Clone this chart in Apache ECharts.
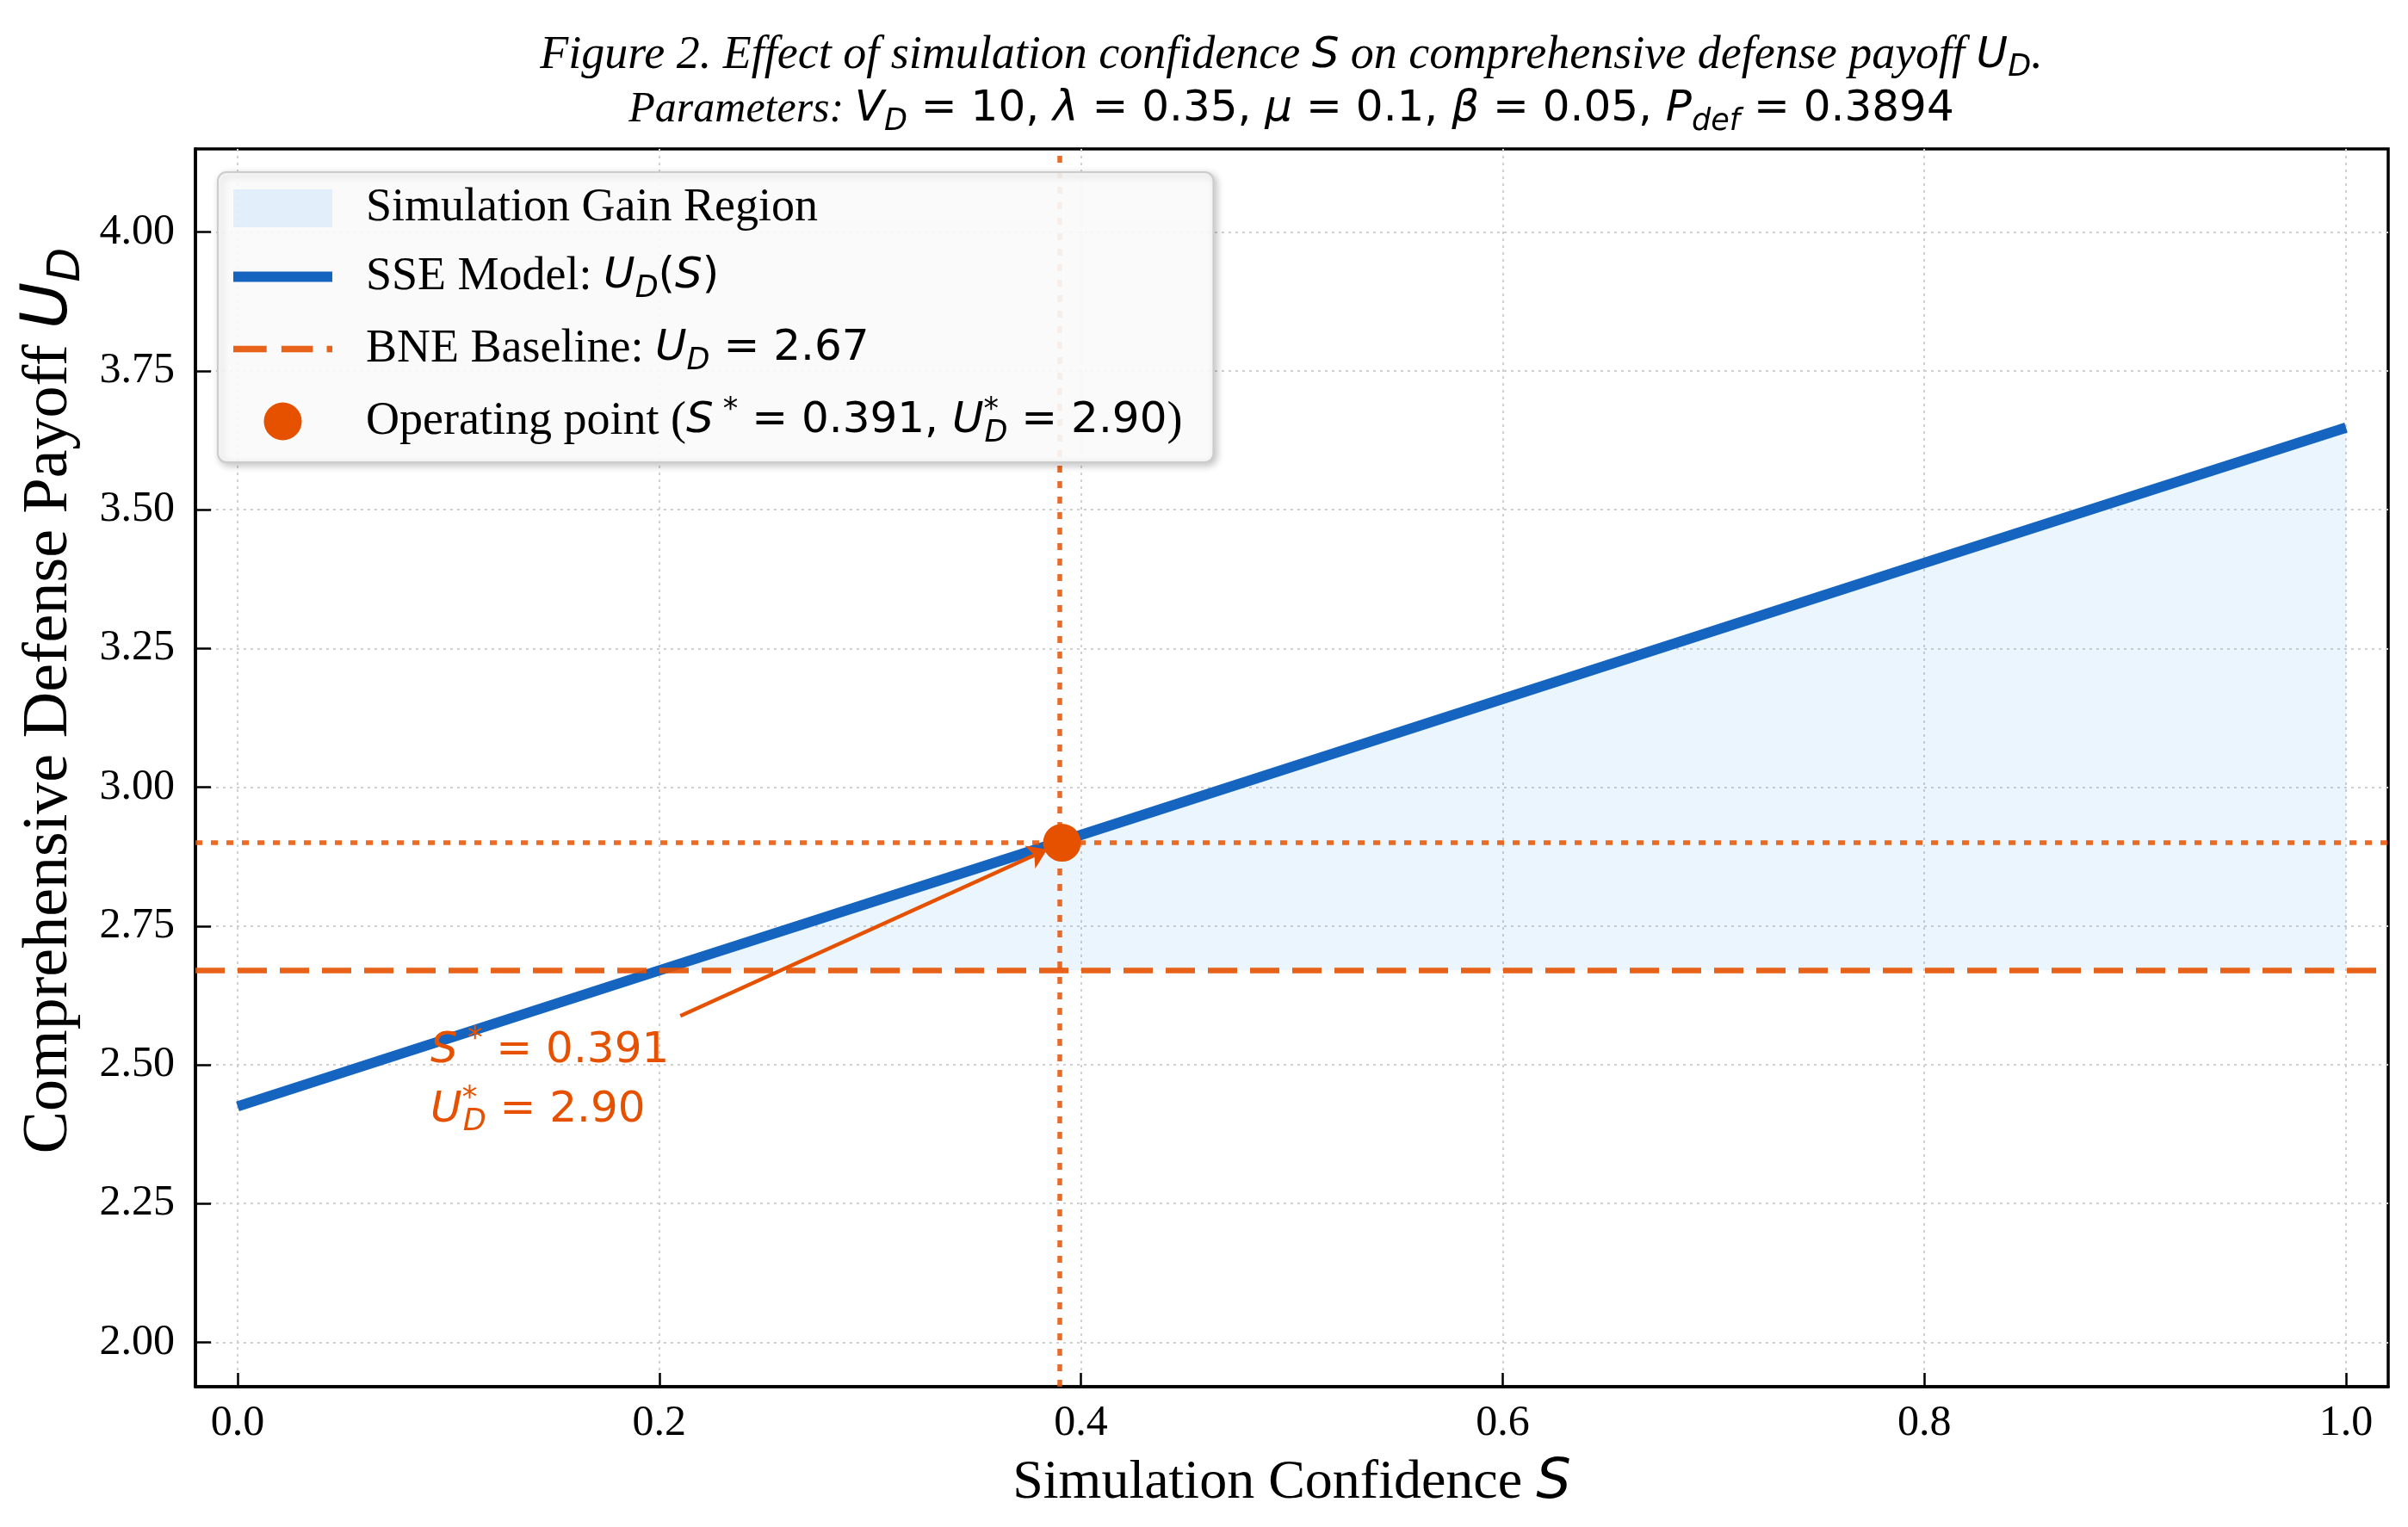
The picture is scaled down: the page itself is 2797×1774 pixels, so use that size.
<!DOCTYPE html>
<html>
<head>
<meta charset="utf-8">
<title>Figure 2</title>
<script src="https://cdn.jsdelivr.net/npm/echarts@6/dist/echarts.min.js"></script>
<style>
  html, body { margin: 0; padding: 0; background: #fff; }
  #main { width: 2797px; height: 1774px; }
</style>
</head>
<body>
<div id="main"></div>
<script>
// values
var sValues = [0, 0.2, 0.4, 0.6, 0.8, 1.0];
var uValues = [2.425, 2.670, 2.914, 3.159, 3.404, 3.648];
var bneBaseline = 2.67;
var opS = 0.391;
var opU = 2.90;
var xTicks = [0, 0.2, 0.4, 0.6, 0.8, 1.0];
var yTicks = [2.00, 2.25, 2.50, 2.75, 3.00, 3.25, 3.50, 3.75, 4.00];
// annotation anchors in data coords
var notePos = [0.0915, 2.472];
var arrowFrom = [0.21, 2.588];
var arrowTo = [0.384, 2.888];

var serif = 'Liberation Serif';
var math = 'DejaVu Sans';
var orange = '#E65100';
var blue = '#1565C0';
var fillColor = 'rgba(66,165,245,0.11)';

// rich styles: t = serif words, m = math italic, n = math upright, d = subscript, u = superscript
function richSet(size, mathSize, color, serifItalic, lhRatio) {
  var small = Math.round(mathSize * 0.7);
  var lh = Math.round(Math.max(size, mathSize) * (lhRatio || 1.25));
  return {
    t: { fontFamily: serif, fontStyle: serifItalic ? 'italic' : 'normal', fontWeight: 'normal', fontSize: size, color: color, lineHeight: lh },
    m: { fontFamily: math, fontStyle: 'italic', fontWeight: 'normal', fontSize: mathSize, color: color, lineHeight: lh },
    n: { fontFamily: math, fontWeight: 'normal', fontSize: mathSize, color: color, lineHeight: lh },
    d: { fontFamily: math, fontStyle: 'italic', fontWeight: 'normal', fontSize: small, color: color, lineHeight: small, padding: [Math.round(mathSize * 0.55), 0, 0, 0] },
    u: { fontFamily: math, fontWeight: 'normal', fontSize: small, color: color, lineHeight: small, padding: [0, 0, Math.round(mathSize * 0.5), 0] },
    uz: { fontFamily: math, fontWeight: 'normal', fontSize: small, color: color, lineHeight: small, width: 1, padding: [0, 0, Math.round(mathSize * 0.5), 0] }
  };
}

var legendNames = {
  gain: '{t|Simulation Gain Region}',
  sse: '{t|SSE Model: }{m|U}{d|D}{n|(}{m|S}{n|)}',
  bne: '{t|BNE Baseline: }{m|U}{d|D}{n| = ' + bneBaseline.toFixed(2) + '}',
  op: '{t|Operating point (}{m|S}{u| *}{n| = ' + opS.toFixed(3) + ', }{m|U}{uz|*}{d|D}{n| = ' + opU.toFixed(2) + '}{t|)}'
};

function renderGain(params, api) {
  var pts = [];
  var first = null, last = null;
  for (var i = 0; i < sValues.length; i++) {
    if (uValues[i] >= bneBaseline - 1e-9) {
      pts.push(api.coord([sValues[i], uValues[i]]));
      if (first === null) first = sValues[i];
      last = sValues[i];
    }
  }
  pts.push(api.coord([last, bneBaseline]));
  pts.push(api.coord([first, bneBaseline]));
  return {
    type: 'polygon',
    shape: { points: pts },
    style: { fill: fillColor }
  };
}

var chart = echarts.init(document.getElementById('main'));

var option = {
  backgroundColor: '#fff',
  animation: false,
  title: {
    left: 1500,
    top: 31,
    textAlign: 'center',
    itemGap: 2,
    padding: 0,
    text: '{t|Figure 2. Effect of simulation confidence }{m|S}{t| on comprehensive defense payoff }{m|U}{d|D}{t|.}',
    subtext: '{t|Parameters: }{m|V}{d|D}{n| = 10, }{m|λ}{n| = 0.35, }{m|μ}{n| = 0.1, }{m|β}{n| = 0.05, }{m|P}{d|def}{n| = 0.3894}',
    textStyle: { fontWeight: 'normal', rich: richSet(54, 50, '#000', true) },
    subtextStyle: { fontWeight: 'normal', rich: richSet(50, 50, '#000', true) }
  },
  legend: {
    orient: 'vertical',
    left: 253,
    top: 200,
    z: 10,
    padding: [15, 36, 16, 18],
    itemWidth: 115,
    itemHeight: 44,
    itemGap: 21,
    backgroundColor: 'rgba(255,255,255,0.9)',
    borderColor: '#cccccc',
    borderWidth: 2,
    borderRadius: 10,
    shadowBlur: 8,
    shadowColor: 'rgba(0,0,0,0.25)',
    shadowOffsetX: 3,
    shadowOffsetY: 3,
    selectedMode: false,
    data: [
      { name: 'gain', icon: 'rect', itemStyle: { color: 'rgba(66,165,245,0.13)' } },
      { name: 'sse', icon: 'path://M0,0H115V12H0Z', symbolKeepAspect: true },
      { name: 'bne', icon: 'path://M0,0H36V7H0Z M52,0H86V7H52Z M101,0H107V7H101Z', symbolKeepAspect: true },
      { name: 'op', icon: 'circle' }
    ],
    formatter: function (name) { return legendNames[name]; },
    textStyle: { padding: [0, 0, 0, 34], rich: richSet(54, 50, '#000', false, 1.2) }
  },
  grid: {
    left: 227,
    right: 23,
    top: 173,
    bottom: 163,
    outerBoundsMode: 'none',
    containLabel: false,
    show: true,
    borderColor: '#000',
    borderWidth: 3.5,
    backgroundColor: 'transparent'
  },
  xAxis: {
    type: 'value',
    min: -0.02,
    max: 1.02,
    name: '{t|Simulation Confidence }{m|S}',
    nameLocation: 'middle',
    nameGap: 72,
    nameTextStyle: { rich: richSet(64, 64, '#000', false) },
    axisLine: { show: true, onZero: false, lineStyle: { color: '#000', width: 3.5 } },
    axisTick: { show: true, inside: true, length: 16, customValues: xTicks, lineStyle: { color: '#000', width: 2.5 } },
    axisLabel: {
      customValues: xTicks,
      margin: 18,
      fontFamily: serif,
      fontSize: 50,
      color: '#000',
      formatter: function (v) { return v.toFixed(1); }
    },
    splitLine: { show: true, lineStyle: { color: '#d0d0d0', width: 2, type: [3, 5] } }
  },
  yAxis: {
    type: 'value',
    min: 1.92,
    max: 4.15,
    name: '{t|Comprehensive Defense Payoff }{m|U}{d|D}',
    nameLocation: 'middle',
    nameRotate: 90,
    nameGap: 123,
    nameTextStyle: { padding: [0, 0, 0, 156], rich: richSet(74, 74, '#000', false) },
    axisLine: { show: true, onZero: false, lineStyle: { color: '#000', width: 3.5 } },
    axisTick: { show: true, inside: true, length: 18, customValues: yTicks, lineStyle: { color: '#000', width: 2.5 } },
    axisLabel: {
      customValues: yTicks,
      margin: 24,
      fontFamily: serif,
      fontSize: 50,
      color: '#000',
      formatter: function (v) { return v.toFixed(2); }
    },
    splitLine: { show: true, lineStyle: { color: '#d0d0d0', width: 2, type: [3, 5] } }
  },
  series: [
    {
      name: 'gain',
      type: 'custom',
      z: 1,
      silent: true,
      itemStyle: { color: fillColor },
      data: [[opS, bneBaseline]],
      encode: { x: 0, y: 1 },
      renderItem: renderGain
    },
    {
      name: 'sse',
      type: 'line',
      z: 2,
      symbol: 'none',
      silent: true,
      lineStyle: { color: blue, width: 12 },
      itemStyle: { color: blue },
      data: sValues.map(function (s, i) { return [s, uValues[i]]; })
    },
    {
      name: 'bne',
      type: 'line',
      z: 3,
      symbol: 'none',
      silent: true,
      lineStyle: { color: orange, width: 6.5, type: [34, 15], opacity: 0.9 },
      itemStyle: { color: orange, opacity: 0.9 },
      data: [],
      markLine: {
        silent: true,
        symbol: ['none', 'none'],
        label: { show: false },
        lineStyle: { color: orange, width: 6.5, type: [34, 15], opacity: 0.9 },
        data: [{ yAxis: bneBaseline }]
      }
    },
    {
      name: 'op',
      type: 'scatter',
      z: 6,
      silent: true,
      symbol: 'circle',
      symbolSize: 44,
      itemStyle: { color: orange, opacity: 1 },
      data: [[opS, opU]],
      markLine: {
        silent: true,
        symbol: ['none', 'none'],
        label: { show: false },
        lineStyle: { color: orange, width: 5.5, type: [8, 10], opacity: 0.85 },
        data: [{ xAxis: opS }, { yAxis: opU }]
      }
    },
    {
      name: 'note',
      type: 'scatter',
      z: 5,
      silent: true,
      data: [],
      markLine: {
        silent: true,
        symbol: ['none', 'arrow'],
        symbolSize: 22,
        label: { show: false },
        lineStyle: { color: orange, width: 4.5, type: 'solid', opacity: 1 },
        data: [[{ coord: arrowFrom }, { coord: arrowTo }]]
      },
      markPoint: {
        silent: true,
        symbol: 'circle',
        symbolSize: 0,
        label: {
          show: true,
          position: 'right',
          distance: 0,
          formatter: '{m|S}{u| *}{n| = ' + opS.toFixed(3) + '}\n{m|U}{uz|*}{d|D}{n| = ' + opU.toFixed(2) + '}',
          rich: richSet(50, 50, orange, false, 1.38)
        },
        data: [{ coord: notePos }]
      }
    }
  ]
};

chart.setOption(option);
window.addEventListener('resize', chart.resize);
</script>
</body>
</html>
